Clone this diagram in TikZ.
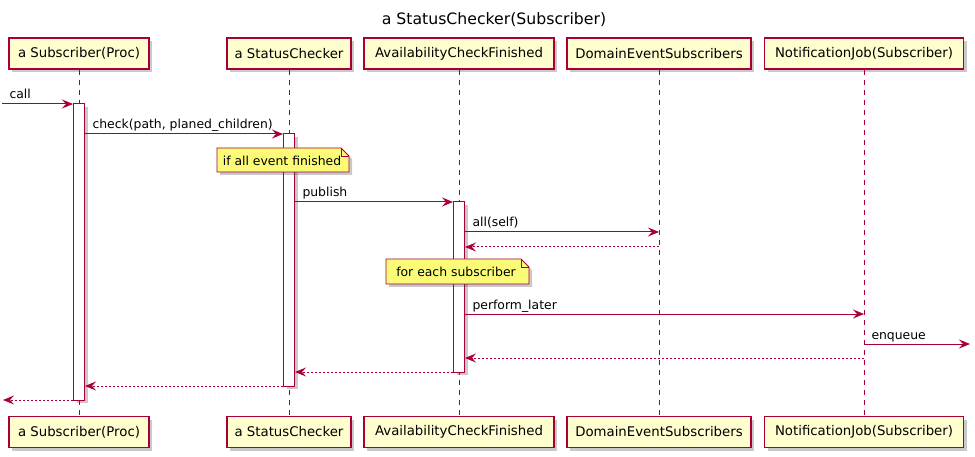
\documentclass[tikz,border=0pt]{standalone}
\usepackage{fontspec}
\setmainfont{DejaVu Sans}
\usetikzlibrary{arrows.meta,shadows}

\definecolor{seqline}{HTML}{A80036}
\definecolor{seqbox}{HTML}{FEFECE}
\definecolor{seqnote}{HTML}{FBFB77}
\newcommand{\partfont}{\fontsize{13.3}{16}\selectfont}
\newcommand{\msgfont}{\fontsize{12.4}{15}\selectfont}
\newcommand{\titlefont}{\fontsize{15.7}{19}\selectfont}

\begin{document}
\begin{tikzpicture}[x=1pt,y=-1pt,
  seqshadow/.style={drop shadow={shadow xshift=3pt, shadow yshift=-3pt, opacity=0.3, fill=black!70}},
  participant/.style={draw=seqline, fill=seqbox, line width=1.1pt, minimum height=31pt, inner sep=0pt, font=\partfont, seqshadow},
  lifeline/.style={draw=seqline, line width=1pt, dash pattern=on 5pt off 5pt},
  activation/.style={draw=seqline, fill=white, line width=1pt, minimum width=11pt, inner sep=0pt, seqshadow},
  notebox/.style={draw=seqline, fill=seqnote, line width=0.8pt, seqshadow},
  notetext/.style={inner sep=0pt, font=\msgfont},
  msg/.style={draw=seqline, line width=1pt, -{Stealth[length=11pt,width=9pt,inset=4pt]}},
  reply/.style={msg, dash pattern=on 2pt off 2pt},
  msglabel/.style={anchor=base west, inner sep=0pt, xshift=7pt, yshift=5pt, font=\msgfont}]
  \useasboundingbox (0,0) rectangle (975,457);

  \node[font=\titlefont] (title) at (494,20) {a StatusChecker(Subscriber)};

  % participants, top and bottom
  \node[participant, minimum width=140pt] (subT) at (79,53.5) {a Subscriber(Proc)};
  \node[participant, minimum width=124pt] (chkT) at (289,53.5) {a StatusChecker};
  \node[participant, minimum width=190pt] (acfT) at (459,53.5) {AvailabilityCheckFinished};
  \node[participant, minimum width=184pt] (desT) at (659,53.5) {DomainEventSubscribers};
  \node[participant, minimum width=199pt] (njT) at (864,53.5) {NotificationJob(Subscriber)};

  \node[participant, minimum width=140pt] (subB) at (79,432) {a Subscriber(Proc)};
  \node[participant, minimum width=124pt] (chkB) at (289,432) {a StatusChecker};
  \node[participant, minimum width=190pt] (acfB) at (459,432) {AvailabilityCheckFinished};
  \node[participant, minimum width=184pt] (desB) at (659,432) {DomainEventSubscribers};
  \node[participant, minimum width=199pt] (njB) at (864,432) {NotificationJob(Subscriber)};

  % lifelines
  \draw[lifeline] (subT.south) -- (subB.north);
  \draw[lifeline] (chkT.south) -- (chkB.north);
  \draw[lifeline] (acfT.south) -- (acfB.north);
  \draw[lifeline] (desT.south) -- (desB.north);
  \draw[lifeline] (njT.south) -- (njB.north);

  % activations
  \node[activation, minimum height=296pt] (actSub) at (79,252) {};
  \node[activation, minimum height=252pt] (actChk) at (289,260) {};
  \node[activation, minimum height=170pt] (actAcf) at (459,287) {};

  % notes
  \filldraw[notebox] (217,148) -- (341,148) -- (349,156) -- (349,172) -- (217,172) -- cycle;
  \draw[seqline, line width=0.8pt] (341,148) -- (341,156) -- (349,156);
  \node[notetext] (note1) at (282,160.5) {if all event finished};
  \filldraw[notebox] (386,259) -- (521,259) -- (529,267) -- (529,284) -- (386,284) -- cycle;
  \draw[seqline, line width=0.8pt] (521,259) -- (521,267) -- (529,267);
  \node[notetext] (note2) at (456,272) {for each subscriber};

  % message rows
  \coordinate (r1) at (0,104);
  \coordinate (r2) at (0,134);
  \coordinate (r3) at (0,202);
  \coordinate (r4) at (0,232);
  \coordinate (r5) at (0,247);
  \coordinate (r6) at (0,314);
  \coordinate (r7) at (0,344);
  \coordinate (r8) at (0,358);
  \coordinate (r9) at (0,372);
  \coordinate (r10) at (0,386);
  \coordinate (r11) at (0,400);
  \coordinate (callsrc) at (2,104);
  \coordinate (enqdst) at (970,344);
  \coordinate (retdst) at (3,400);

  % messages
  \draw[msg] (callsrc) -- (actSub.west |- r1) node[at start, msglabel] {call};
  \draw[msg] (actSub.east |- r2) -- (actChk.west |- r2) node[at start, msglabel] {check(path, planed\_children)};
  \draw[msg] (actChk.east |- r3) -- (actAcf.west |- r3) node[at start, msglabel] {publish};
  \draw[msg] (actAcf.east |- r4) -- (desT.south |- r4) node[at start, msglabel] {all(self)};
  \draw[reply] (desT.south |- r5) -- (actAcf.east |- r5);
  \draw[msg] (actAcf.east |- r6) -- (njT.south |- r6) node[at start, msglabel] {perform\_later};
  \draw[msg] (njT.south |- r7) -- (enqdst) node[at start, msglabel] {enqueue};
  \draw[reply] (njT.south |- r8) -- (actAcf.east |- r8);
  \draw[reply] (actAcf.west |- r9) -- (actChk.east |- r9);
  \draw[reply] (actChk.west |- r10) -- (actSub.east |- r10);
  \draw[reply] (actSub.west |- r11) -- (retdst);
\end{tikzpicture}
\end{document}
